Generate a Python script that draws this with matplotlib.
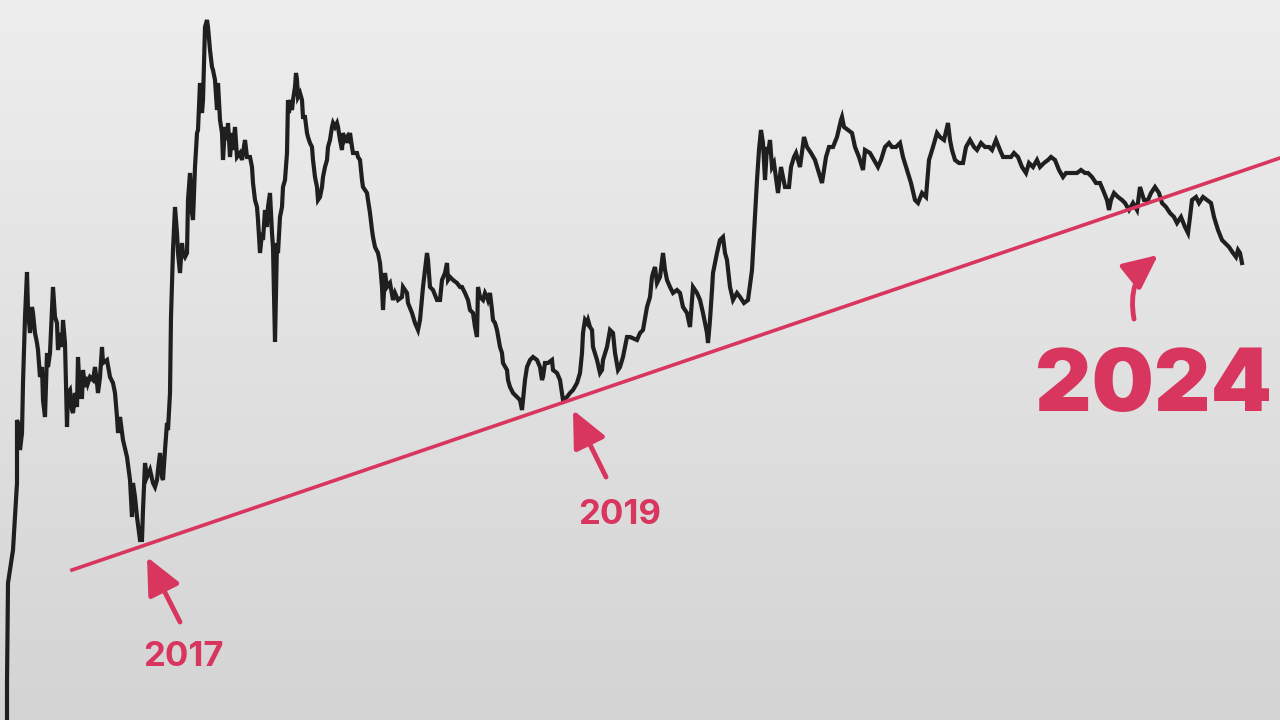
import numpy as np
import matplotlib
matplotlib.use("Agg")
import matplotlib.pyplot as plt

# price path (week index, price index)
weeks = [7, 7, 8, 10, 13, 15, 17, 17, 18, 20, 22, 23, 25, 27, 28, 30, 32, 33, 35, 37, 38, 40, 42, 43, 45, 47, 48, 50,
         53, 55, 57, 58, 60, 62, 63, 65, 67, 68, 70, 72, 73, 75, 77, 78, 80, 82, 83, 85, 87, 88, 90, 93, 95, 97, 98,
         100, 102, 103, 107, 110, 113, 115, 117, 118, 120, 123, 127, 130, 132, 133, 135, 137, 140, 142, 143, 145, 147,
         150, 153, 155, 157, 158, 160, 162, 163, 165, 167, 168, 170, 171, 172, 173, 175, 177, 178, 180, 182, 183, 185,
         187, 188, 190, 192, 193, 195, 197, 198, 200, 202, 203, 205, 207, 208, 210, 212, 213, 215, 217, 218, 220, 222,
         223, 225, 227, 228, 230, 232, 233, 235, 237, 240, 242, 243, 245, 247, 250, 252, 253, 255, 257, 258, 260, 262,
         263, 265, 267, 268, 270, 272, 273, 275, 277, 278, 280, 282, 283, 285, 287, 288, 289, 290, 292, 293, 295, 296,
         297, 298, 300, 302, 303, 305, 307, 308, 310, 312, 313, 315, 317, 318, 320, 322, 323, 325, 327, 328, 330, 332,
         333, 335, 337, 338, 340, 342, 343, 345, 347, 348, 350, 352, 353, 357, 358, 360, 362, 363, 367, 368, 370, 372,
         373, 375, 378,
         380, 382, 383, 385, 387, 390, 393, 395, 398, 402, 403, 407, 408, 412, 415, 418, 420, 423, 425, 427, 428, 430,
         433, 437, 440, 442, 445, 447, 448, 450, 453, 457, 460, 462, 465, 468, 470, 473, 475, 477, 478, 480, 483, 485,
         487, 488, 490, 492, 493, 495, 497, 500, 502, 503, 507, 508, 510, 513, 517, 520, 522, 523, 525, 527, 530, 533,
         537, 540, 542, 543, 545, 548, 552, 553, 557, 560, 562, 563, 567, 570, 573, 577, 580, 582, 583, 585, 587, 588,
         590, 592, 593, 597, 600, 602, 603, 607, 610, 613, 615, 618, 620, 623, 627, 630, 637, 640, 643, 647, 650, 652,
         653, 655, 657, 660, 663, 665, 667, 670, 673, 677, 680, 683, 687, 690, 693, 697, 700, 703, 707, 708, 710, 712,
         713, 717, 720, 723, 725, 727, 730, 733, 737, 740,
         744, 748, 752, 755, 757, 759, 761, 763, 765, 767, 768, 770, 772, 774, 778, 781, 785, 789, 791, 794, 796, 800,
         804, 807, 811, 815, 818, 822, 826, 829, 833, 837, 841, 842, 844, 848, 852, 855, 859, 863, 865, 870, 874, 878,
         881, 885, 889, 892, 896, 900, 903, 907, 911, 915, 918, 922, 926, 929, 933, 937, 940, 944, 948, 950, 952, 955,
         959, 963, 966, 970, 974, 977, 981, 985, 989, 992, 996, 1000, 1003, 1007, 1011, 1014, 1018, 1022, 1026, 1029,
         1033, 1037, 1040, 1044, 1048, 1051, 1055, 1059, 1063, 1066, 1070, 1074, 1077, 1081, 1085, 1088, 1092, 1096,
         1100, 1103, 1107, 1109, 1111, 1114, 1118, 1122, 1125, 1129, 1133, 1137, 1140, 1144, 1148, 1151, 1155, 1159,
         1162, 1166, 1170, 1174, 1177, 1181, 1185, 1188, 1190, 1192, 1196, 1199, 1203, 1207, 1211, 1214, 1218, 1222,
         1225, 1229, 1233, 1236, 1238, 1240, 1242]

price = [0, 37, 137, 150, 170, 203, 237, 300, 297, 270, 287, 337, 403, 448, 410, 387, 413, 407, 387, 377, 370, 343, 353,
         320, 303, 367, 353, 367, 433, 403, 397, 370, 387, 373, 400, 377, 293, 327, 330, 310, 307, 327, 313, 363, 323,
         323, 350, 333, 343, 337, 343, 340, 353, 337, 327, 343, 373, 357, 360, 343, 337, 327, 303, 287, 303, 280, 263,
         240, 203, 237, 223, 203, 180, 180, 210, 257, 243, 250, 237, 233, 240, 250, 267, 243, 240, 270, 297, 290, 327,
         403, 437, 470, 513, 487, 467, 447, 477, 467, 463, 467, 520, 547, 507, 500, 553, 587, 590, 637, 607, 620, 693,
         700, 693, 670, 653, 650, 640, 610, 637, 600, 587, 560, 593, 580, 597, 563, 587, 570, 593, 563, 567, 560, 567,
         580, 563, 563, 553, 537, 520, 513, 500, 467, 487, 480, 510, 493, 513, 527, 487, 473, 378, 477, 467, 503, 513,
         533, 540, 567, 620, 607, 620, 610, 620, 633, 647, 640, 623, 627, 620, 603, 603, 587, 583, 577, 573, 560, 543,
         533, 520, 523, 533, 543, 553, 560, 573, 580, 593, 597, 593, 597, 593, 580, 570, 587, 580, 583, 577, 587, 573,
         567, 567, 563, 560, 540, 533, 527, 520, 507, 490, 483, 473, 467,
         457, 433, 410, 447, 433, 437, 420, 427, 420, 423, 433, 427, 417, 407, 397, 390, 400, 433, 450, 467, 460, 433,
         430, 420, 420, 440, 447, 457, 440, 443, 440, 437, 433, 433, 427, 420, 410, 407, 393, 383, 433, 423, 420, 427,
         423, 420, 427, 410, 400, 397, 390, 373, 367, 357, 350, 340, 333, 327, 323, 320, 310, 320, 340, 353, 360, 363,
         360, 353, 340, 343, 357, 357, 360, 350, 347, 340, 327, 320, 323, 327, 330, 337, 347, 367, 387, 400, 397, 400,
         393, 390, 373, 360, 347, 350, 360, 373, 390, 387, 367, 350, 353, 363, 383, 383, 380, 387, 390, 413, 423, 443,
         447, 453, 437, 443, 467, 450, 440, 433, 427, 430, 427, 413, 407, 393, 433, 427, 420, 407, 387, 377, 400, 430,
         447, 467, 480, 483, 467, 460, 433, 420, 427, 423,
         417, 420, 450, 503, 540, 570, 590, 577, 540, 573, 567, 580, 553, 557, 527, 553, 533, 533, 553, 563, 567, 553,
         583, 573, 567, 560, 550, 537, 563, 573, 573, 583, 600, 603, 593, 590, 587, 573, 563, 550, 570, 567, 560, 553,
         560, 573, 577, 573, 573, 577, 563, 550, 537, 520, 517, 527, 523, 560, 573, 587, 583, 580, 597, 580, 570, 560,
         557, 557, 573, 580, 573, 570, 577, 573, 573, 570, 580, 570, 563, 563, 563, 567, 563, 553, 547, 557,
         553, 560, 553, 557, 560, 563, 560, 550, 543, 547, 547, 547, 547, 550, 547, 547, 543, 537,
         537, 530, 520, 510, 520, 527, 523, 520, 517, 510, 517, 510, 533, 520, 520, 527, 533, 527,
         517, 513, 507, 503, 497, 503, 493, 487, 503, 520, 523, 517, 523, 520, 517, 503, 490, 480,
         477, 473, 467, 463, 470, 467, 457]

# support trend line
trend_weeks = [72, 1280]
trend_price = [150, 562]

# labels: (text, label position, arrow tail, arrow tip)
label_years = ["2017", "2019"]
label_xy = [(183, 63), (620, 205)]
arrow_tail = [(180, 98), (606, 243)]
arrow_tip = [(147, 163), (573, 310)]

pink = "#d8355f"
head = "-|>,head_length=1.5,head_width=0.7"

fig = plt.figure(figsize=(12.8, 7.2), dpi=100)
ax = fig.add_axes([0, 0, 1, 1])

# soft grey gradient background
grad = np.linspace(0, 1, 256).reshape(-1, 1)
ax.imshow(grad, extent=[0, 1280, 0, 720], aspect="auto", origin="lower",
          cmap=matplotlib.colors.LinearSegmentedColormap.from_list("bg", ["#d4d4d4", "#eeeeee"]), zorder=0)

ax.plot(weeks, price, color="#1f1f1f", lw=3, solid_joinstyle="miter", zorder=3)
ax.plot(trend_weeks, trend_price, color=pink, lw=2.6, zorder=4)

for txt, pos, tail, tip in zip(label_years, label_xy, arrow_tail, arrow_tip):
    ax.annotate("", xy=tip, xytext=tail,
                arrowprops=dict(arrowstyle=head, color=pink, lw=3.5, mutation_scale=15,
                                shrinkA=0, shrinkB=0), zorder=5)
    ax.text(pos[0], pos[1], txt, ha="center", va="center", color=pink,
            fontsize=25, fontweight="bold", family=["Inter", "DejaVu Sans"], zorder=5)

# curved arrow pointing at the 2024 break
ax.annotate("", xy=(1158, 465), xytext=(1134, 401),
            arrowprops=dict(arrowstyle=head, color=pink, lw=3.5, mutation_scale=14,
                            shrinkA=0, shrinkB=0, connectionstyle="arc3,rad=-0.3"), zorder=5)
ax.text(1153, 331, "2024", ha="center", va="center", color=pink,
        fontsize=63, fontweight="black", family=["Inter", "DejaVu Sans"], zorder=5)

ax.set_xlim(0, 1280)
ax.set_ylim(0, 720)
ax.axis("off")

fig.savefig("out.png", dpi=100)
